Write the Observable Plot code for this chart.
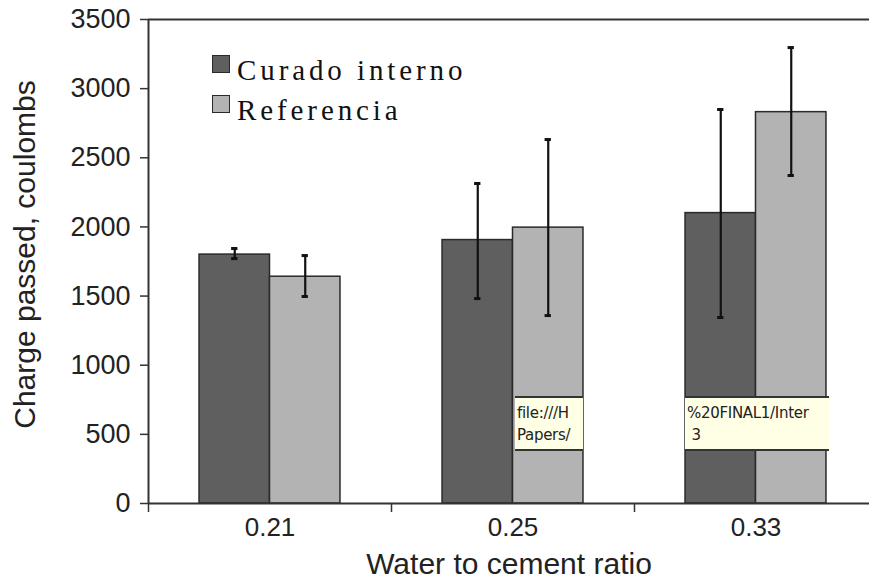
<!DOCTYPE html>
<html>
<head>
<meta charset="utf-8">
<script src="https://cdn.jsdelivr.net/npm/d3@7"></script>
<script src="https://cdn.jsdelivr.net/npm/@observablehq/plot@0.6"></script>
<style>
  html, body { margin: 0; padding: 0; background: #fff; }
  #wrap { position: relative; width: 869px; height: 582px; overflow: hidden; }
  .legend { position: absolute; left: 212px; top: 50px; font-family: "Liberation Serif", "DejaVu Serif", serif; font-size: 29px; letter-spacing: 3.9px; color: #111; }
  .legend .row { display: flex; align-items: center; height: 40px; }
  .legend .sw { width: 16px; height: 16px; border: 1.5px solid #2a2a2a; margin-right: 7px; margin-top: -12px; }
  .tip { position: absolute; background: #ffffe6; border-top: 2px solid #333; border-bottom: 2px solid #333;
         font-family: "DejaVu Sans", sans-serif; font-size: 15px; line-height: 22px; color: #222; padding: 4px 0 0 2px; box-sizing: border-box; overflow: hidden; white-space: nowrap; letter-spacing: -0.3px; }
</style>
</head>
<body>
<div id="wrap"></div>
<script>
// Rapid chloride permeability: charge passed per water/cement ratio
const ratios = ["0.21", "0.25", "0.33"];
const seriesNames = ["Curado interno", "Referencia"];
const curado = [1800, 1905, 2100];
const curadoLow = [1771, 1482, 1345];
const curadoHigh = [1844, 2314, 2849];
const referencia = [1640, 1995, 2830];
const referenciaLow = [1497, 1359, 2372];
const referenciaHigh = [1793, 2632, 3297];
const yTicks = [0, 500, 1000, 1500, 2000, 2500, 3000, 3500];

const colors = {"Curado interno": "#5f5f5f", "Referencia": "#b3b3b3"};
const half = 0.29;           // bar width in category units
const rows = ratios.flatMap((r, i) => [
  {ratio: r, i, series: seriesNames[0], value: curado[i], lo: curadoLow[i], hi: curadoHigh[i], x1: i - half, x2: i},
  {ratio: r, i, series: seriesNames[1], value: referencia[i], lo: referenciaLow[i], hi: referenciaHigh[i], x1: i, x2: i + half}
]);
const mid = d => (d.x1 + d.x2) / 2;
const cap = 0.013;

const axisFont = "Liberation Sans, Arial, sans-serif";

const chart = Plot.plot({
  width: 869,
  height: 582,
  marginLeft: 148,
  marginRight: 0,
  marginTop: 19,
  marginBottom: 79,
  style: {fontFamily: axisFont, color: "#222", background: "#fff"},
  x: {type: "linear", domain: [-0.5, 2.5], range: [148, 877]},
  y: {domain: [0, 3500]},
  marks: [
    Plot.rectY(rows, {x1: "x1", x2: "x2", y: "value", fill: d => colors[d.series], stroke: "#2a2a2a", strokeWidth: 1.5}),
    Plot.ruleX(rows, {x: mid, y1: "lo", y2: "hi", stroke: "#111", strokeWidth: 2.2}),
    Plot.ruleY(rows, {x1: d => mid(d) - cap, x2: d => mid(d) + cap, y: "hi", stroke: "#111", strokeWidth: 3}),
    Plot.ruleY(rows, {x1: d => mid(d) - cap, x2: d => mid(d) + cap, y: "lo", stroke: "#111", strokeWidth: 3}),
    // frame lines
    Plot.ruleY([0], {stroke: "#333", strokeWidth: 2}),
    Plot.ruleY([3500], {stroke: "#333", strokeWidth: 2}),
    Plot.ruleX([-0.5], {stroke: "#333", strokeWidth: 2}),
    // y axis
    Plot.axisY({ticks: yTicks, tickFormat: d => String(d), tickSize: 8, tickPadding: 10, fontSize: 27, stroke: "#333", strokeWidth: 1.5, label: null}),
    // category separators and labels
    Plot.axisX({ticks: [-0.5, 0.5, 1.5, 2.5], tickFormat: () => "", tickSize: 9, stroke: "#333", strokeWidth: 1.5, label: null}),
    Plot.axisX({ticks: [0, 1, 2], tickFormat: i => ratios[i], tickSize: 0, tickPadding: 14, fontSize: 26, label: null}),
    // axis titles
    Plot.text(["Water to cement ratio"], {frameAnchor: "bottom", dy: 70, fontSize: 30, fill: "#222"}),
    Plot.text(["Charge passed, coulombs"], {frameAnchor: "left", textAnchor: "middle", dx: -123, dy: -7, rotate: -90, fontSize: 30, fill: "#222"})
  ]
});

const wrap = document.getElementById("wrap");
wrap.appendChild(chart);

// legend inside the plot area
const legend = document.createElement("div");
legend.className = "legend";
seriesNames.forEach(name => {
  const row = document.createElement("div");
  row.className = "row";
  const sw = document.createElement("div");
  sw.className = "sw";
  sw.style.background = colors[name];
  const label = document.createElement("span");
  label.textContent = name;
  row.appendChild(sw);
  row.appendChild(label);
  legend.appendChild(row);
});
wrap.appendChild(legend);

// hover tooltips left over on the page
const tips = [
  {left: 515, width: 68, lines: ["file:///H", "Papers/"]},
  {left: 685, width: 144, lines: ["%20FINAL1/Inter", " 3"]}
];
tips.forEach(t => {
  const el = document.createElement("div");
  el.className = "tip";
  el.style.left = t.left + "px";
  el.style.top = "396px";
  el.style.width = t.width + "px";
  el.style.height = "55px";
  el.innerHTML = t.lines.map(s => s.replace(/ /g, "&nbsp;")).join("<br>");
  wrap.appendChild(el);
});
</script>
</body>
</html>
